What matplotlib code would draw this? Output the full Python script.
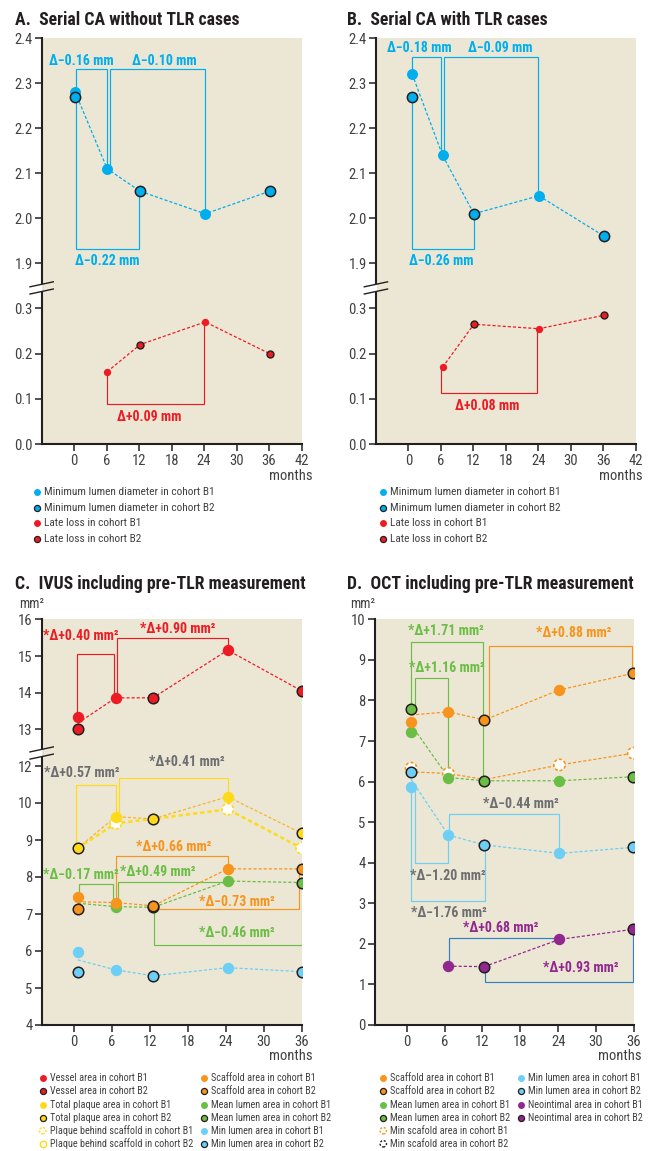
import numpy as np
import matplotlib
matplotlib.use('Agg')
import matplotlib.pyplot as plt
from matplotlib import font_manager as fm

nan = np.nan

# ---------------- data ----------------
# A. Serial CA without TLR cases
a_months = [0.2, 6.1, 12.2, 24.2, 36.1]
a_mld_b1 = [2.28, 2.11, nan, 2.01, nan]
a_mld_b2 = [2.27, nan, 2.06, nan, 2.06]
a_mld_line = [2.28, 2.11, 2.06, 2.01, 2.06]
a_ll_b1 = [nan, 0.16, nan, 0.27, nan]
a_ll_b2 = [nan, nan, 0.22, nan, 0.20]
a_ll_line = [nan, 0.16, 0.22, 0.27, 0.20]

# B. Serial CA with TLR cases
b_months = [0.7, 6.3, 12.1, 24.1, 36.2]
b_mld_b1 = [2.32, 2.14, nan, 2.05, nan]
b_mld_b2 = [2.27, nan, 2.01, nan, 1.96]
b_mld_line = [2.32, 2.14, 2.01, 2.05, 1.96]
b_ll_b1 = [nan, 0.17, nan, 0.255, nan]
b_ll_b2 = [nan, nan, 0.265, nan, 0.285]
b_ll_line = [nan, 0.17, 0.265, 0.255, 0.285]

# C. IVUS including pre-TLR measurement (mm2)
c_months = [0.6, 6.6, 12.5, 24.3, 36.0]
c_vessel_b1 = [13.33, 13.86, nan, 15.16, nan]
c_vessel_b2 = [13.00, nan, 13.86, nan, 14.05]
c_vessel_line = [13.17, 13.86, 13.86, 15.16, 14.05]
c_plaque_b1 = [nan, 9.63, nan, 10.17, nan]
c_plaque_b2 = [8.78, nan, 9.57, nan, 9.18]
c_plaque_line = [8.78, 9.63, 9.57, 10.17, 9.18]
c_behind_b1 = [nan, 9.45, nan, 9.83, 8.78]
c_behind_line = [8.78, 9.45, 9.57, 9.83, 8.78]
c_scaffold_b1 = [7.47, 7.31, nan, 8.22, nan]
c_scaffold_b2 = [7.13, nan, 7.22, nan, 8.22]
c_scaffold_line = [7.33, 7.31, 7.22, 8.22, 8.22]
c_lumen_b1 = [nan, 7.20, nan, 7.89, nan]
c_lumen_b2 = [nan, nan, 7.18, nan, 7.85]
c_lumen_line = [7.29, 7.20, 7.18, 7.89, 7.85]
c_minlum_b1 = [5.96, 5.49, nan, 5.55, nan]
c_minlum_b2 = [5.42, nan, 5.33, nan, 5.44]
c_minlum_line = [5.76, 5.49, 5.33, 5.55, 5.44]

# D. OCT including pre-TLR measurement (mm2)
d_months = [0.7, 6.6, 12.3, 24.2, 35.9]
d_scaffold_b1 = [7.48, 7.72, nan, 8.26, nan]
d_scaffold_b2 = [nan, nan, 7.52, nan, 8.67]
d_scaffold_line = [7.64, 7.72, 7.52, 8.26, 8.67]
d_lumen_b1 = [7.23, 6.10, nan, 6.02, nan]
d_lumen_b2 = [7.78, nan, 6.02, nan, 6.12]
d_lumen_line = [7.40, 6.10, 6.02, 6.02, 6.12]
d_minscaf_b1 = [6.33, 6.20, nan, 6.41, 6.70]
d_minscaf_line = [6.24, 6.20, 6.05, 6.41, 6.70]
d_minlum_b1 = [5.86, 4.68, nan, 4.23, nan]
d_minlum_b2 = [6.23, nan, 4.44, nan, 4.38]
d_minlum_line = [6.05, 4.68, 4.44, 4.23, 4.38]
d_neo_b1 = [nan, 1.45, nan, 2.11, nan]
d_neo_b2 = [nan, nan, 1.44, nan, 2.36]
d_neo_line = [nan, 1.45, 1.44, 2.11, 2.36]

# axis ticks
ab_xticks = [0, 6, 12, 18, 24, 30, 36, 42]
cd_xticks = [0, 6, 12, 18, 24, 30, 36]
ab_top_yticks = [1.9, 2.0, 2.1, 2.2, 2.3, 2.4]
ab_bot_yticks = [0.0, 0.1, 0.2, 0.3]
c_top_yticks = [13, 14, 15, 16]
c_bot_yticks = [4, 5, 6, 7, 8, 9, 10, 11]
c_bot_yticklabels = ['4', '5', '6', '7', '8', '9', '10', '12']
d_yticks = list(range(0, 11))

# ---------------- fonts ----------------
entries = fm.fontManager.ttflist


def pick_narrow():
    for nm in ['Liberation Sans Narrow', 'Roboto Condensed', 'Noto Sans Condensed',
               'Open Sans Condensed', 'DejaVu Sans Condensed']:
        if any(f.name == nm for f in entries):
            return nm, 'normal', 1.0
    for nm in ['Noto Sans', 'Open Sans', 'DejaVu Sans', 'Roboto']:
        if any(f.name == nm and 'condensed' in str(f.stretch) for f in entries):
            return nm, 'condensed', 1.0
    return 'Roboto', 'normal', 0.88


FAMILY, STRETCH, K = pick_narrow()
plt.rcParams['font.family'] = [FAMILY, 'DejaVu Sans']
plt.rcParams['font.stretch'] = STRETCH

BG = '#ECE7D4'
INK = '#231F20'
TXT = '#414042'
CYAN = '#00AEEF'
RED = '#ED1C24'
YEL = '#FFDA1A'
YEL_LINE = '#F7B52C'
ORA = '#F7941D'
GRN = '#6ABD45'
LBLUE = '#6DCFF6'
PUR = '#92278F'
BLUE = '#2E80C0'
GRAY = '#6D6E71'

W, H = 648, 1151
fig = plt.figure(figsize=(W / 100, H / 100), dpi=100)


def rect(x0, y0, x1, y1):
    return [x0 / W, 1 - y1 / H, (x1 - x0) / W, (y1 - y0) / H]


def style(ax, xlim, ylim, yticks, yticklabels, xticks=None):
    ax.set_facecolor(BG)
    ax.set_xlim(*xlim)
    ax.set_ylim(*ylim)
    for s in ('top', 'right'):
        ax.spines[s].set_visible(False)
    for s in ('left', 'bottom'):
        ax.spines[s].set_linewidth(1.5)
        ax.spines[s].set_color(INK)
    ax.set_yticks(yticks)
    ax.set_yticklabels(yticklabels)
    ax.tick_params(axis='both', direction='out', length=5, width=1.1, color=INK,
                   labelsize=10.5 * K, labelcolor=TXT, pad=1.5)
    if xticks is None:
        ax.spines['bottom'].set_visible(False)
        ax.tick_params(axis='x', bottom=False, labelbottom=False)
    else:
        ax.set_xticks(xticks)
        ax.set_xticklabels([str(v) for v in xticks])
        ax.tick_params(axis='x', pad=2.5)


def dline(ax, t, vals, color, lw=0.9, dash=(2.5, 1.6)):
    ax.plot(t, vals, ls=(0, dash), color=color, lw=lw, zorder=2)


def dots(ax, t, vals, color, ms, edge=False, mew=1.1):
    if edge:
        ax.plot(t, vals, 'o', ms=ms, mfc=color, mec=INK, mew=mew, ls='none', zorder=4)
    else:
        ax.plot(t, vals, 'o', ms=ms, mfc=color, mec=color, mew=0, ls='none', zorder=4)


def open_dots(ax, t, vals, color, ms, dashed=True):
    ls = (0, (1.8, 1.3)) if dashed else 'solid'
    ax.scatter(t, vals, s=ms ** 2, facecolors='white', edgecolors=color,
               linewidths=1.2, linestyles=ls, zorder=4)


def bracket(ax, xa, ya, xb, yb, level, color):
    ax.plot([xa, xa, xb, xb], [ya, level, level, yb], color=color, lw=0.85,
            zorder=1.5, solid_joinstyle='miter')


def note(ax, x, y, s, color):
    ax.text(x, y, s, color=color, ha='center', va='center', fontsize=10 * K,
            fontweight='bold', zorder=5)


ab_fmt = lambda v: ['%.1f' % x for x in v]

# ---------------- panel A ----------------
A_BRK = 287.9
axA1 = fig.add_axes(rect(41.7, 38.3, 301.5, A_BRK))
axA2 = fig.add_axes(rect(41.7, A_BRK, 301.5, 444))
style(axA1, (-6, 42), (2.4 - (A_BRK - 38.3) / 450, 2.4), ab_top_yticks, ab_fmt(ab_top_yticks))
style(axA2, (-6, 42), (0, (444 - A_BRK) / 452), ab_bot_yticks, ab_fmt(ab_bot_yticks), ab_xticks)

dline(axA1, a_months, a_mld_line, CYAN)
dots(axA1, a_months, a_mld_b1, CYAN, 7.9)
dots(axA1, a_months, a_mld_b2, CYAN, 7.4, edge=True)
bracket(axA1, a_months[0] + 0.2, a_mld_b1[0], a_months[1], a_mld_b1[1], 2.331, CYAN)
bracket(axA1, a_months[1] + 0.55, a_mld_b1[1], a_months[3] - 0.1, a_mld_b1[3], 2.331, CYAN)
bracket(axA1, a_months[0] + 0.2, a_mld_b2[0], a_months[2] - 0.2, a_mld_b2[2], 1.931, CYAN)
note(axA1, 1.4, 2.349, 'Δ\u22120.16 mm', CYAN)
note(axA1, 16.6, 2.349, 'Δ\u22120.10 mm', CYAN)
note(axA1, 6.1, 1.905, 'Δ\u22120.22 mm', CYAN)

dline(axA2, a_months, a_ll_line, RED)
dots(axA2, a_months, a_ll_b1, RED, 5.3)
dots(axA2, a_months, a_ll_b2, RED, 5.0, edge=True, mew=1.0)
bracket(axA2, a_months[1] - 0.1, a_ll_b1[1], a_months[3] - 0.3, a_ll_b1[3], 0.0885, RED)
note(axA2, 13.9, 0.059, 'Δ+0.09 mm', RED)

# ---------------- panel B ----------------
axB1 = fig.add_axes(rect(376.0, 38.3, 635.7, A_BRK))
axB2 = fig.add_axes(rect(376.0, A_BRK, 635.7, 444))
style(axB1, (-6, 42), (2.4 - (A_BRK - 38.3) / 450, 2.4), ab_top_yticks, ab_fmt(ab_top_yticks))
style(axB2, (-6, 42), (0, (444 - A_BRK) / 452), ab_bot_yticks, ab_fmt(ab_bot_yticks), ab_xticks)

dline(axB1, b_months, b_mld_line, CYAN)
dots(axB1, b_months, b_mld_b1, CYAN, 7.9)
dots(axB1, b_months, b_mld_b2, CYAN, 7.4, edge=True)
bracket(axB1, b_months[0], b_mld_b1[0], b_months[1] - 0.3, b_mld_b1[1], 2.359, CYAN)
bracket(axB1, b_months[1] + 0.3, b_mld_b1[1], b_months[3] - 0.1, b_mld_b1[3], 2.359, CYAN)
bracket(axB1, b_months[0], b_mld_b2[0], b_months[2], b_mld_b2[2], 1.931, CYAN)
note(axB1, 1.97, 2.378, 'Δ\u22120.18 mm', CYAN)
note(axB1, 16.9, 2.378, 'Δ\u22120.09 mm', CYAN)
note(axB1, 6.1, 1.905, 'Δ\u22120.26 mm', CYAN)

dline(axB2, b_months, b_ll_line, RED)
dots(axB2, b_months, b_ll_b1, RED, 5.3)
dots(axB2, b_months, b_ll_b2, RED, 5.0, edge=True, mew=1.0)
bracket(axB2, b_months[1] - 0.3, b_ll_b1[1], b_months[3] - 0.3, b_ll_b1[3], 0.112, RED)
note(axB2, 14.6, 0.084, 'Δ+0.08 mm', RED)

# ---------------- panel C ----------------
C_BRK = 753.0
axC1 = fig.add_axes(rect(41.7, 619.3, 301.7, C_BRK))
axC2 = fig.add_axes(rect(41.7, C_BRK, 301.7, 1025))
style(axC1, (-5.1, 36), (16 - (C_BRK - 619.3) / 36.7, 16), c_top_yticks,
      [str(v) for v in c_top_yticks])
style(axC2, (-5.1, 36), (4, 4 + (1025 - C_BRK) / 37.0), c_bot_yticks, c_bot_yticklabels,
      cd_xticks)

M1, M2 = 8.2, 7.6
# vessel area
dline(axC1, c_months, c_vessel_line, RED)
bracket(axC1, c_months[0] - 0.07, c_vessel_b1[0], c_months[1] - 0.3, c_vessel_b1[1], 15.05, RED)
bracket(axC1, c_months[1] + 0.13, c_vessel_b1[1], c_months[3], c_vessel_b1[3], 15.5, RED)
dots(axC1, c_months, c_vessel_b1, RED, M1)
dots(axC1, c_months, c_vessel_b2, RED, M2, edge=True)
note(axC1, 1.06, 15.55, '*Δ+0.40 mm²', RED)
note(axC1, 16.45, 15.73, '*Δ+0.90 mm²', RED)

# lower segment lines
dline(axC2, c_months, c_behind_line, YEL, lw=1.8, dash=(1.7, 1.2))
dline(axC2, c_months, c_plaque_line, YEL_LINE)
dline(axC2, c_months, c_lumen_line, GRN)
dline(axC2, c_months, c_scaffold_line, ORA)
dline(axC2, c_months, c_minlum_line, LBLUE)

bracket(axC2, c_months[0] - 0.23, c_plaque_b2[0], c_months[1], c_plaque_b1[1], 10.5, YEL)
bracket(axC2, c_months[1] + 0.5, c_plaque_b1[1], c_months[3], c_plaque_b1[3], 10.67, YEL)
bracket(axC2, c_months[1] + 0.1, c_scaffold_b1[1], c_months[3], c_scaffold_b1[3], 8.58, ORA)
bracket(axC2, c_months[0] + 0.2, c_scaffold_b1[0], c_months[1] - 0.4, c_scaffold_b1[1], 7.8, GRN)
bracket(axC2, c_months[1] + 0.4, c_scaffold_b1[1], c_months[3], c_lumen_b1[3], 7.87, GRN)
bracket(axC2, c_months[2] + 0.1, c_scaffold_b2[2], c_months[4] - 0.4, c_scaffold_b2[4], 7.13, ORA)
bracket(axC2, c_months[2] + 0.2, c_lumen_b2[2], c_months[4], c_lumen_b2[4], 6.16, GRN)

open_dots(axC2, c_months, c_behind_b1, YEL, M1)
dots(axC2, c_months, c_plaque_b1, YEL, M1)
dots(axC2, c_months, c_plaque_b2, YEL, M2, edge=True)
dots(axC2, c_months, c_lumen_b1, GRN, M1)
dots(axC2, c_months, c_lumen_b2, GRN, M2, edge=True)
dots(axC2, c_months, c_scaffold_b1, ORA, M1)
dots(axC2, c_months, c_scaffold_b2, ORA, M2, edge=True)
dots(axC2, c_months, c_minlum_b1, LBLUE, M1)
dots(axC2, c_months, c_minlum_b2, LBLUE, M2, edge=True)

note(axC2, 1.3, 10.8, '*Δ+0.57 mm²', GRAY)
note(axC2, 17.8, 11.12, '*Δ+0.41 mm²', GRAY)
note(axC2, 15.75, 8.8, '*Δ+0.66 mm²', ORA)
note(axC2, 1.06, 8.05, '*Δ\u22120.17 mm²', GRN)
note(axC2, 13.3, 8.14, '*Δ+0.49 mm²', GRN)
note(axC2, 25.75, 7.33, '*Δ\u22120.73 mm²', ORA)
note(axC2, 25.8, 6.48, '*Δ\u22120.46 mm²', GRN)

# ---------------- panel D ----------------
axD = fig.add_axes(rect(374.7, 619.3, 634.0, 1025))
style(axD, (-5.07, 36), (0, 10), d_yticks, [str(v) for v in d_yticks], cd_xticks)

dline(axD, d_months, d_minscaf_line, ORA)
dline(axD, d_months, d_minlum_line, LBLUE)
dline(axD, d_months, d_lumen_line, GRN)
dline(axD, d_months, d_scaffold_line, ORA)
dline(axD, d_months, d_neo_line, PUR)

bracket(axD, d_months[0] - 0.07, d_lumen_b2[0], d_months[2] - 0.2, d_lumen_b2[2], 9.45, GRN)
bracket(axD, d_months[0] + 0.57, d_lumen_b2[0], d_months[1], d_lumen_b1[1], 8.55, GRN)
bracket(axD, d_months[2] + 0.8, d_scaffold_b2[2], d_months[4] - 0.2, d_scaffold_b2[4], 9.33, ORA)
bracket(axD, d_months[1] + 0.1, d_minlum_b1[1], d_months[3], d_minlum_b1[3], 5.19, LBLUE)
bracket(axD, d_months[0] + 0.6, d_minlum_b1[0], d_months[1], d_minlum_b1[1], 3.99, LBLUE)
bracket(axD, d_months[0] + 0.03, d_minlum_b1[0], d_months[2] + 0.05, d_minlum_b2[2], 3.06, LBLUE)
bracket(axD, d_months[1] + 0.05, d_neo_b1[1], d_months[3] - 0.7, 2.14, 2.14, BLUE)
bracket(axD, d_months[2] + 0.1, d_neo_b2[2], d_months[4] - 0.1, d_neo_b2[4], 1.05, BLUE)

open_dots(axD, d_months, d_minscaf_b1, ORA, M1)
dots(axD, d_months, d_minlum_b1, LBLUE, M1)
dots(axD, d_months, d_minlum_b2, LBLUE, M2, edge=True)
dots(axD, d_months, d_lumen_b1, GRN, M1)
dots(axD, d_months, d_scaffold_b1, ORA, M1)
dots(axD, d_months, d_scaffold_b2, ORA, M2, edge=True)
dots(axD, d_months, d_lumen_b2, GRN, M2, edge=True)
dots(axD, d_months, d_neo_b1, PUR, M1)
dots(axD, d_months, d_neo_b2, PUR, M2, edge=True)

note(axD, 6.2, 9.71, '*Δ+1.71 mm²', GRN)
note(axD, 6.33, 8.79, '*Δ+1.16 mm²', GRN)
note(axD, 26.5, 9.67, '*Δ+0.88 mm²', ORA)
note(axD, 18.05, 5.44, '*Δ\u22120.44 mm²', GRAY)
note(axD, 6.45, 3.67, '*Δ\u22121.20 mm²', GRAY)
note(axD, 6.7, 2.77, '*Δ\u22121.76 mm²', GRAY)
note(axD, 14.9, 2.38, '*Δ+0.68 mm²', PUR)
note(axD, 27.5, 1.4, '*Δ+0.93 mm²', PUR)

# ---------------- overlay: titles, units, breaks, legends ----------------
ov = fig.add_axes([0, 0, 1, 1], zorder=10)
ov.set_xlim(0, W)
ov.set_ylim(H, 0)
ov.axis('off')

for x, y, s in [(15, 25, 'A.  Serial CA without TLR cases'),
                (346.7, 25, 'B.  Serial CA with TLR cases'),
                (15, 588.5, 'C.  IVUS including pre-TLR measurement'),
                (346.7, 588.5, 'D.  OCT including pre-TLR measurement')]:
    ov.text(x, y, s, fontsize=12.8 * K, fontweight='bold', color=INK, ha='left', va='baseline')

for x, y in [(312.7, 476), (643, 476), (312.7, 1056), (642, 1056)]:
    ov.text(x, y, 'months', fontsize=10.5 * K, color=TXT, ha='right', va='center')
for x in (31.5, 362.7):
    ov.text(x, 603.5, 'mm²', fontsize=9.8 * K, color=TXT, ha='center', va='center')


def axis_break(xs, yc):
    slope = -5.0 / 23.3
    xl, xr = xs - 11.7, xs + 11.6
    y1 = lambda x: yc - 3.6 + slope * (x - xs)
    y2 = lambda x: yc + 3.6 + slope * (x - xs)
    xe = xs + 1.2
    ov.fill([xl, xe, xe, xl], [y1(xl), y1(xe), y2(xe), y2(xl)], color='white', lw=0, zorder=1)
    ov.plot([xl, xr], [y1(xl), y1(xr)], color=INK, lw=1.0, zorder=2)
    ov.plot([xl, xr], [y2(xl), y2(xr)], color=INK, lw=1.0, zorder=2)


axis_break(41.7, A_BRK)
axis_break(376.0, A_BRK)
axis_break(41.7, C_BRK)


def key(x, y, kind, color, label, fs):
    if kind == 'b1':
        ov.plot([x], [y], 'o', ms=5.0, mfc=color, mec=color, mew=0)
    elif kind == 'b2':
        ov.plot([x], [y], 'o', ms=4.4, mfc=color, mec=INK, mew=0.9)
    elif kind == 'dash':
        ov.scatter([x], [y], s=4.6 ** 2, facecolors='white', edgecolors=color,
                   linewidths=1.0, linestyles=(0, (1.5, 1.2)))
    else:
        ov.scatter([x], [y], s=4.6 ** 2, facecolors='white', edgecolors=color, linewidths=1.0)
    ov.text(x + 7.0, y, label, fontsize=fs * K, color=TXT, ha='left', va='center')


ab_keys = [('b1', CYAN, 'Minimum lumen diameter in cohort B1'),
           ('b2', CYAN, 'Minimum lumen diameter in cohort B2'),
           ('b1', RED, 'Late loss in cohort B1'),
           ('b2', RED, 'Late loss in cohort B2')]
for i, (k, c, s) in enumerate(ab_keys):
    y = 491.7 + i * 15.8
    key(36.7, y, k, c, s, 8.2)
    key(383.3, y, k, c, s, 8.2)

c_keys1 = [('b1', RED, 'Vessel area in cohort B1'),
           ('b2', RED, 'Vessel area in cohort B2'),
           ('b1', YEL, 'Total plaque area in cohort B1'),
           ('b2', YEL, 'Total plaque area in cohort B2'),
           ('dash', YEL, 'Plaque behind scaffold in cohort B1'),
           ('open', YEL, 'Plaque behind scaffold in cohort B2')]
c_keys2 = [('b1', ORA, 'Scaffold area in cohort B1'),
           ('b2', ORA, 'Scaffold area in cohort B2'),
           ('b1', GRN, 'Mean lumen area in cohort B1'),
           ('b2', GRN, 'Mean lumen area in cohort B2'),
           ('b1', LBLUE, 'Min lumen area in cohort B1'),
           ('b2', LBLUE, 'Min lumen area in cohort B2')]
d_keys1 = [('b1', ORA, 'Scaffold area in cohort B1'),
           ('b2', ORA, 'Scaffold area in cohort B2'),
           ('b1', GRN, 'Mean lumen area in cohort B1'),
           ('b2', GRN, 'Mean lumen area in cohort B2'),
           ('dash', ORA, 'Min scafold area in cohort B1'),
           ('dash', INK, 'Min scafold area in cohort B2')]
d_keys2 = [('b1', LBLUE, 'Min lumen area in cohort B1'),
           ('b2', LBLUE, 'Min lumen area in cohort B2'),
           ('b1', PUR, 'Neointimal area in cohort B1'),
           ('b2', PUR, 'Neointimal area in cohort B2')]
for col_x, keys in [(42.7, c_keys1), (204.0, c_keys2), (383.3, d_keys1), (520.7, d_keys2)]:
    for i, (k, c, s) in enumerate(keys):
        key(col_x, 1078.3 + i * 13.1, k, c, s, 7.3)

fig.savefig('out.png', dpi=100)
